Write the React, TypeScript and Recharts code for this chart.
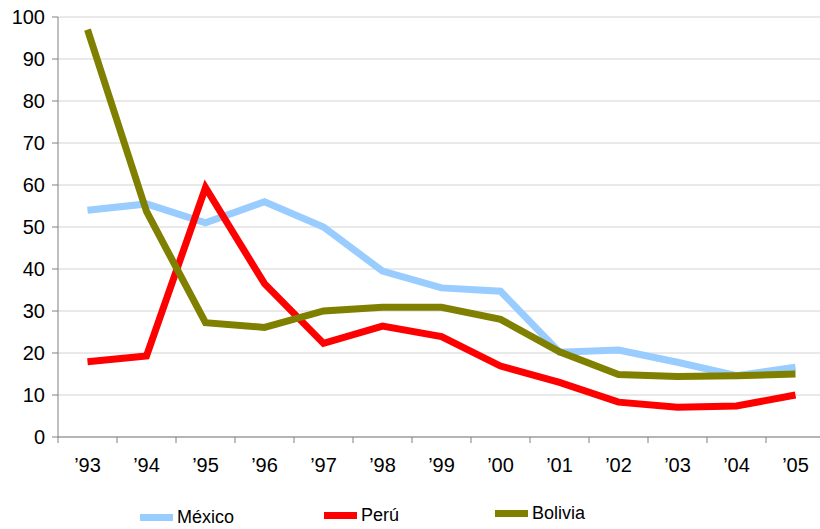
import React from "react";
import { LineChart, Line, XAxis, YAxis, CartesianGrid } from "recharts";

const YEARS = ["’93", "’94", "’95", "’96", "’97", "’98", "’99", "’00", "’01", "’02", "’03", "’04", "’05"];
const MEXICO = [54, 55.5, 51, 56, 50, 39.5, 35.5, 34.7, 20.2, 20.7, 17.8, 14.6, 16.6];
const PERU = [17.9, 19.3, 59.4, 36.5, 22.3, 26.4, 23.9, 16.9, 13, 8.3, 7.1, 7.4, 10];
const BOLIVIA = [97, 53.7, 27.2, 26.1, 30, 30.9, 30.9, 28, 20.3, 14.9, 14.4, 14.6, 15];
const Y_TICKS = [0, 10, 20, 30, 40, 50, 60, 70, 80, 90, 100];

const SERIES = [
  { key: "mexico", name: "México", color: "#99ccff", legendX: 140, legendY: 517 },
  { key: "peru", name: "Perú", color: "#ff0000", legendX: 324, legendY: 515 },
  { key: "bolivia", name: "Bolivia", color: "#808000", legendX: 495, legendY: 513 },
];

const data = YEARS.map((label, i) => ({
  idx: i,
  label,
  mexico: MEXICO[i],
  peru: PERU[i],
  bolivia: BOLIVIA[i],
}));

// tick marks sit between the years, labels sit under them
const BOUNDARY_TICKS = YEARS.map((_, i) => i - 0.5).concat(YEARS.length - 0.5);
const CENTER_TICKS = YEARS.map((_, i) => i);

const FONT = "'Liberation Sans', Arial, sans-serif";

export default function App() {
  return (
    <div
      style={{
        position: "fixed",
        left: 0,
        top: 0,
        width: 820,
        height: 529,
        overflow: "hidden",
        background: "#fff",
        fontFamily: FONT,
      }}
    >
      <LineChart width={830} height={529} data={data} margin={{ top: 17, right: 5, bottom: 32, left: 0 }}>
        <CartesianGrid vertical={false} stroke="#d4d4d4" xAxisId="edges" />
        <XAxis
          xAxisId="edges"
          dataKey="idx"
          type="number"
          domain={[-0.5, YEARS.length - 0.5]}
          ticks={BOUNDARY_TICKS}
          tick={{ fontSize: 1, fill: "none" }}
          tickFormatter={() => " "}
          height={6}
          tickSize={6}
          stroke="#808080"
        />
        <XAxis
          xAxisId="years"
          dataKey="idx"
          type="number"
          domain={[-0.5, YEARS.length - 0.5]}
          ticks={CENTER_TICKS}
          tickFormatter={(v: number) => YEARS[v]}
          axisLine={false}
          tickLine={false}
          tickSize={0}
          tickMargin={15}
          height={54}
          tick={{ fill: "#000", fontSize: 20, fontFamily: FONT }}
        />
        <YAxis
          width={58}
          domain={[0, 100]}
          ticks={Y_TICKS}
          interval={0}
          tickSize={6}
          tickMargin={7}
          stroke="#808080"
          tick={{ fill: "#000", fontSize: 20, fontFamily: FONT }}
        />
        {SERIES.map((s) => (
          <Line
            key={s.key}
            xAxisId="years"
            dataKey={s.key}
            name={s.name}
            stroke={s.color}
            strokeWidth={7}
            dot={false}
            activeDot={false}
            strokeLinejoin="miter"
            isAnimationActive={false}
          />
        ))}
      </LineChart>
      {SERIES.map((s) => (
        <div
          key={s.key}
          style={{
            position: "absolute",
            left: s.legendX,
            top: s.legendY - 12,
            height: 24,
            display: "flex",
            alignItems: "center",
            fontSize: 18,
            color: "#000",
          }}
        >
          <span style={{ display: "inline-block", width: 33, height: 7, background: s.color, marginRight: 4 }} />
          <span>{s.name}</span>
        </div>
      ))}
    </div>
  );
}
